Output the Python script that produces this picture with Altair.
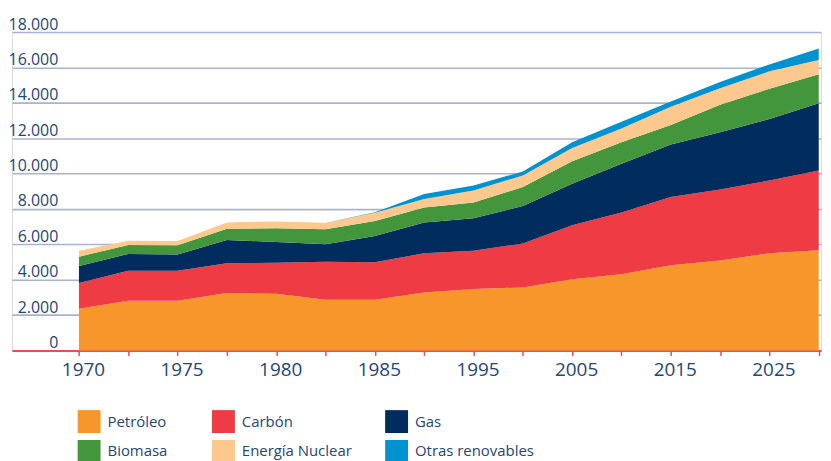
import altair as alt
import pandas as pd

# Categories (x positions); intermediate years are unlabeled ticks
years = ["1970", "1972", "1975", "1977", "1980", "1982", "1985", "1990",
         "1995", "2000", "2005", "2010", "2015", "2020", "2025", "2030"]
shown = ["1970", "1975", "1980", "1985", "1995", "2005", "2015", "2025"]

fuels = ["Petróleo", "Carbón", "Gas", "Biomasa", "Energía Nuclear", "Otras renovables"]
colors = ["#F7972B", "#EF3B44", "#002D5E", "#44963C", "#FDC88D", "#0093CF"]

petroleo = [2360, 2810, 2810, 3240, 3200, 2870, 2870, 3280, 3470, 3560, 4030, 4310, 4820, 5080, 5490, 5660]
carbon = [1445, 1690, 1690, 1690, 1750, 2140, 2110, 2210, 2160, 2490, 3050, 3485, 3856, 4012, 4119, 4513]
gas = [973, 956, 919, 1312, 1182, 993, 1489, 1744, 1838, 2118, 2344, 2754, 2961, 3238, 3468, 3805]
biomasa = [524, 507, 525, 638, 768, 844, 844, 844, 900, 1069, 1270, 1214, 1108, 1556, 1720, 1630]
nuclear = [337, 243, 243, 356, 394, 375, 469, 487, 675, 656, 753, 787, 1028, 939, 977, 803]
otras = [0, 0, 0, 0, 0, 0, 30, 281, 281, 225, 315, 376, 298, 354, 394, 658]

series = [petroleo, carbon, gas, biomasa, nuclear, otras]

rows = []
for k, (name, vals) in enumerate(zip(fuels, series)):
    for i, v in enumerate(vals):
        rows.append({"idx": i, "year": years[i], "fuel": name, "value": v, "ord": k})
df = pd.DataFrame(rows)

# legend fills column by column (2 rows): order entries so rows read as in the original
legend_order = [fuels[0], fuels[3], fuels[1], fuels[4], fuels[2], fuels[5]]
legend_colors = [colors[fuels.index(f)] for f in legend_order]

label_arr = "[" + ",".join("'" + (y if y in shown else "") + "'" for y in years) + "]"
text_color = "#23467A"
axis_red = "#EF4B52"

pad = "\u2800"
legend_expr = ("indexof(['Petróleo', 'Biomasa'], datum.label) >= 0 ? "
               "datum.label + '" + pad + "' : datum.label")

chart = alt.Chart(df).mark_area(interpolate="linear", opacity=1).encode(
    x=alt.X("idx:Q",
            scale=alt.Scale(domain=[-1.358, 15.046], nice=False, zero=False),
            axis=alt.Axis(values=list(range(len(years))), labelExpr=label_arr + "[datum.value]",
                          title=None, grid=False, domainColor=axis_red, domainWidth=2,
                          tickColor=axis_red, tickSize=5, tickWidth=1.5,
                          labelFontSize=19, labelColor=text_color, labelFont="Open Sans",
                          labelPadding=5, labelOffset=4, labelFlush=False, labelOverlap=False)),
    y=alt.Y("value:Q", stack="zero",
            scale=alt.Scale(domain=[0, 18000], nice=False),
            axis=alt.Axis(values=list(range(0, 18001, 2000)),
                          labelExpr="replace(format(datum.value, ','), ',', '.')",
                          title=None, domain=False, ticks=False, grid=True,
                          gridColor="#A9B2D0", gridWidth=1.6,
                          labelAlign="right", labelBaseline="alphabetic", labelPadding=-46,
                          labelOffset=-3, labelFontSize=16, labelColor=text_color,
                          labelFont="Open Sans")),
    color=alt.Color("fuel:N", scale=alt.Scale(domain=legend_order, range=legend_colors),
                    legend=alt.Legend(orient="none", legendX=66, legendY=380, columns=3,
                                      title=None, symbolType="square", symbolSize=529,
                                      symbolStrokeWidth=0, symbolOpacity=1,
                                      labelFontSize=15, labelColor=text_color,
                                      labelFont="Open Sans", labelOffset=7,
                                      rowPadding=7, columnPadding=33,
                                      labelExpr=legend_expr)),
    order=alt.Order("ord:Q", sort="ascending"),
).properties(
    width=813, height=320,
    autosize=alt.AutoSizeParams(type="none"),
    padding={"left": 4, "top": 23, "right": 2, "bottom": 110},
).configure_view(stroke=None).configure(background="white")

chart.save("out.html", embed_options={"renderer": "svg", "actions": False})
